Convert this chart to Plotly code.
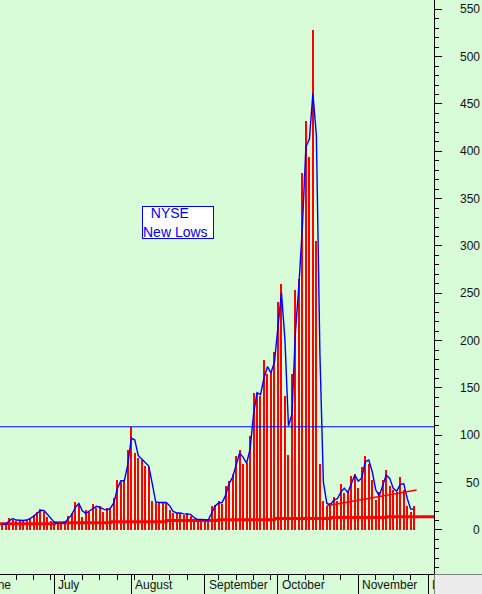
import numpy as np
import pandas as pd
import plotly.graph_objects as go

# NYSE new lows, one value per trading day from 2014-06-10 to 2014-11-25
new_lows = [
    6, 6, 13, 11, 10, 10, 10, 11, 13, 16,
    19, 22, 19, 14, 9, 7, 7, 7, 9, 15,
    18, 30, 26, 14, 21, 19, 27, 23, 25, 19,
    23, 23, 34, 53, 51, 53, 85, 109, 81, 76,
    74, 68, 67, 31, 28, 30, 28, 30, 21, 18,
    18, 18, 16, 18, 15, 11, 11, 11, 11, 10,
    25, 26, 31, 27, 46, 52, 59, 78, 84, 70,
    71, 99, 145, 145, 141, 180, 165, 167, 188, 241,
    260, 141, 79, 165, 253, 265, 377, 432, 394, 528,
    305, 70, 31, 25, 28, 35, 31, 49, 39, 40,
    57, 59, 44, 66, 78, 70, 53, 32, 40, 53,
    63, 46, 42, 40, 56, 42, 25, 19, 25,
]

holidays = ["2014-07-04", "2014-09-01"]
month_names = ["June", "July", "August", "September", "October", "November", "December"]

# stepped reference line (thick red)
step_start = [-1, 15, 31, 47, 62, 78, 94, 110, 125]
step_level = [6.5, 7.7, 8.8, 9.9, 10.9, 12.0, 13.2, 14.1, 14.1]

# thin red trend line in November
trend_x = [93, 118.7]
trend_y = [25.5, 42.3]

alert_level = 109
y_major = list(range(0, 551, 50))

X_RANGE = [-0.6, 123.68]

# trading calendar (index 0 = 2014-06-10)
cal = pd.bdate_range("2014-06-02", "2014-12-31")
cal = cal[~cal.isin(pd.to_datetime(holidays))]
pos = np.arange(len(cal)) - 6
cal_df = pd.DataFrame({"date": cal, "pos": pos})
month_pos = cal_df.groupby(cal_df["date"].dt.month)["pos"].first().tolist()
week_pos = cal_df.groupby(cal_df["date"].dt.isocalendar().week)["pos"].first().tolist()

x = np.arange(len(new_lows))
ma = pd.Series(new_lows).rolling(2, min_periods=1).mean()

BG = "#d8fcd8"
RED = "#ff0000"
BLUE = "#0000ff"
FONT = "Liberation Sans, Arial"

fig = go.Figure()

fig.add_trace(go.Bar(x=x, y=new_lows, width=0.3, marker_color=RED, marker_line_width=0))
fig.add_trace(go.Scatter(x=step_start, y=step_level, mode="lines", line_shape="hv",
                         line=dict(color=RED, width=3)))
fig.add_trace(go.Scatter(x=x, y=ma, mode="lines", line=dict(color=BLUE, width=1.4)))
fig.add_trace(go.Scatter(x=trend_x, y=trend_y, mode="lines", line=dict(color=RED, width=1.5)))

fig.add_shape(type="line", xref="paper", x0=0, x1=1, yref="y", y0=alert_level, y1=alert_level,
              line=dict(color=BLUE, width=1), layer="above")

# month labels, left aligned after the month tick (paper coords so June can sit off-range)
for name, p in zip(month_names, month_pos):
    xp = (p - X_RANGE[0]) / (X_RANGE[1] - X_RANGE[0])
    fig.add_annotation(x=xp, xref="paper", y=0, yref="paper", yanchor="middle", yshift=-11,
                       xanchor="left", xshift=2, text=name, showarrow=False,
                       font=dict(family=FONT, size=12, color="#111111"))

# right axis labels, right aligned
for v in y_major:
    fig.add_annotation(x=1, xref="paper", y=v, yref="y", xanchor="right", xshift=48,
                       yanchor="middle", text=str(v), showarrow=False,
                       font=dict(family=FONT, size=12, color="#111111"))

fig.add_annotation(x=0.41, y=0.6127, xref="paper", yref="paper",
                   text="\u00a0\u00a0NYSE<br>New Lows", align="left", showarrow=False,
                   font=dict(family=FONT, size=14, color=BLUE),
                   bgcolor="white", bordercolor=BLUE, borderwidth=1, borderpad=0,
                   width=70, height=31)

# grey corner box
fig.add_annotation(x=1, xref="paper", y=0, yref="paper", xanchor="left", yanchor="top",
                   text=" ", showarrow=False, width=80, height=40,
                   bgcolor="#ececec", bordercolor="#808080", borderwidth=1, borderpad=0)

fig.update_layout(
    width=482, height=594,
    margin=dict(l=0, r=48, t=0, b=20),
    paper_bgcolor=BG, plot_bgcolor=BG,
    showlegend=False, bargap=0,
    xaxis=dict(range=X_RANGE, showgrid=False, zeroline=False,
               showline=True, linecolor="black", linewidth=1,
               tickmode="array", tickvals=month_pos, showticklabels=False,
               ticks="outside", ticklen=20, tickcolor="black", tickwidth=1,
               minor=dict(tickmode="array", tickvals=week_pos, ticks="outside",
                          ticklen=5, tickcolor="black", tickwidth=1)),
    yaxis=dict(range=[-46.5, 559.8], side="right", showgrid=False, zeroline=False,
               showline=True, linecolor="black", linewidth=1,
               tickmode="array", tickvals=y_major, showticklabels=False,
               ticks="outside", ticklen=7, tickcolor="black", tickwidth=1,
               minor=dict(dtick=10, ticks="outside", ticklen=4, tickcolor="black", tickwidth=1)),
)

fig.write_html("out.html", config={"displayModeBar": False},
               post_script="document.body.style.margin='0';")
